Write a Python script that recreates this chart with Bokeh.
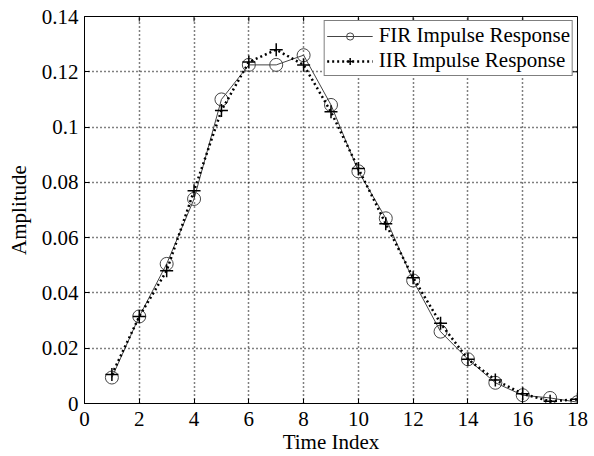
import math
from bokeh.plotting import figure
from bokeh.models import FixedTicker, Legend, LegendItem, Range1d
from bokeh.embed import file_html
from bokeh.resources import INLINE

# ---- data ----
time_index = [1, 2, 3, 4, 5, 6, 7, 8, 9, 10, 11, 12, 13, 14, 15, 16, 17, 18]
fir_response = [0.0094, 0.0315, 0.0505, 0.074, 0.110, 0.1225, 0.1225, 0.126, 0.108,
                0.084, 0.067, 0.0445, 0.026, 0.016, 0.0075, 0.003, 0.002, 0.0005]
iir_response = [0.0105, 0.0315, 0.048, 0.077, 0.106, 0.1235, 0.128, 0.1225, 0.1055,
                0.085, 0.065, 0.0455, 0.029, 0.016, 0.0085, 0.0035, 0.0008, 0.0015]
x_ticks = [0, 2, 4, 6, 8, 10, 12, 14, 16, 18]
y_ticks = [0, 0.02, 0.04, 0.06, 0.08, 0.1, 0.12, 0.14]
y_tick_labels = ["0", "0.02", "0.04", "0.06", "0.08", "0.1", "0.12", "0.14"]
series_labels = ["FIR Impulse Response", "IIR Impulse Response"]
x_label = "Time Index"
y_label = "Amplitude"
x_min, x_max = 0, 18
y_min, y_max = 0, 0.14

FONT = "Liberation Serif"
FS = "21px"

p = figure(width=594, height=456, output_backend="svg", toolbar_location=None,
           x_range=Range1d(x_min, x_max), y_range=Range1d(y_min, y_max),
           min_border_left=84, min_border_right=17, min_border_top=16, min_border_bottom=53,
           x_axis_label=x_label, y_axis_label=y_label)
p.background_fill_color = "white"
p.border_fill_color = "white"
p.outline_line_color = "black"
p.outline_line_width = 1

for ax in (p.xaxis[0], p.yaxis[0]):
    ax.major_label_text_font = FONT
    ax.major_label_text_font_size = FS
    ax.major_label_text_color = "black"
    ax.axis_label_text_font = FONT
    ax.axis_label_text_font_size = FS
    ax.axis_label_text_font_style = "normal"
    ax.axis_label_text_color = "black"
    ax.major_tick_in = 5
    ax.major_tick_out = 0
    ax.minor_tick_line_color = None
    ax.axis_line_color = "black"
    ax.major_tick_line_color = "black"

p.xaxis[0].ticker = FixedTicker(ticks=x_ticks)
p.yaxis[0].ticker = FixedTicker(ticks=y_ticks)
p.yaxis[0].major_label_overrides = {t: l for t, l in zip(y_ticks, y_tick_labels)}
p.xaxis[0].major_label_standoff = 8
p.yaxis[0].major_label_standoff = 6
p.xaxis[0].axis_label_standoff = 1
p.yaxis[0].axis_label_standoff = 8

# inward ticks on the top and right edges of the box
p.ray(x=x_ticks, y=[y_max] * len(x_ticks), length=5, length_units="screen",
      angle=-math.pi / 2, line_color="black", line_width=1)
p.ray(x=[x_max] * len(y_ticks), y=y_ticks, length=5, length_units="screen",
      angle=math.pi, line_color="black", line_width=1)

for g in p.grid:
    g.grid_line_color = "black"
    g.grid_line_dash = "1 3"
    g.grid_line_width = 1.5
p.xgrid[0].ticker = FixedTicker(ticks=x_ticks)
p.ygrid[0].ticker = FixedTicker(ticks=y_ticks)

fir_line = p.line(time_index, fir_response, line_color="#444444", line_width=1)
fir_pts = p.scatter(time_index, fir_response, marker="circle", size=13,
                    fill_color=None, line_color="#444444", line_width=1)
iir_line = p.line(time_index, iir_response, line_color="black", line_width=2.5,
                  line_dash="2 3")
iir_pts = p.scatter(time_index, iir_response, marker="cross", size=13,
                    line_color="black", line_width=1.5)

legend = Legend(items=[LegendItem(label=series_labels[0], renderers=[fir_line, fir_pts]),
                       LegendItem(label=series_labels[1], renderers=[iir_line, iir_pts])],
                location="top_right")
legend.label_text_font = FONT
legend.label_text_font_size = FS
legend.label_text_color = "black"
legend.glyph_width = 46
legend.glyph_height = 18
legend.label_height = 18
legend.label_standoff = 6
legend.spacing = 0
legend.padding = 2
legend.margin = 4
legend.border_line_color = "black"
legend.border_line_width = 1
legend.background_fill_color = "white"
legend.background_fill_alpha = 1
p.add_layout(legend)

open("out.html", "w").write(file_html(p, INLINE))
